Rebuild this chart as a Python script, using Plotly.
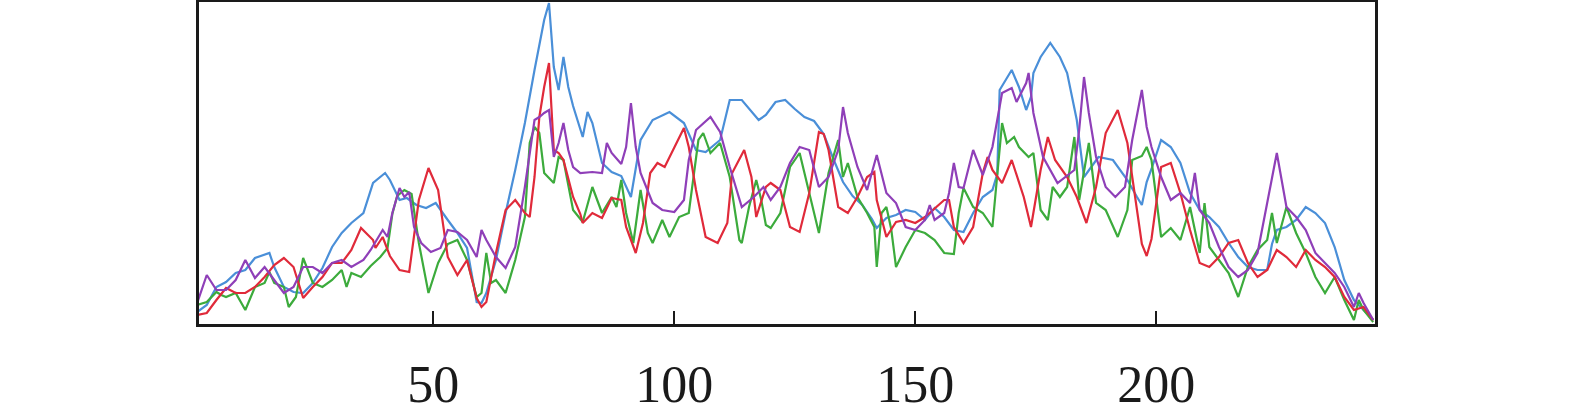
import plotly.graph_objects as go

# channel positions and intensities (arbitrary units)
x_blue = [1, 3, 5, 7, 9, 11, 13, 15, 16, 17, 19, 21, 23, 25, 27, 29, 31, 33, 35.5, 37.5, 40, 41, 43, 44.5, 46.5, 48.5,
          50.5, 53, 55, 57, 58, 59, 60, 61, 63, 65, 67, 69, 71, 73, 74, 75, 76, 77, 78, 79, 81, 82, 83, 85, 87, 89, 91,
          93, 95.5, 99, 102, 104.5, 106.5, 109.5, 111.5, 114, 117.5, 119, 121, 123, 125, 127, 129, 131, 133, 135, 137,
          139, 141, 142, 144, 146, 148, 150, 152, 154, 156, 158, 160, 162, 164, 166, 167, 167.5, 170, 171.5, 173, 174,
          174.5, 176, 178, 180, 181.5, 183.5, 185, 186, 188, 191, 192.5, 194, 196, 197, 198, 199, 201, 203, 205, 207,
          209, 211, 213, 215, 217, 219, 221, 223, 224, 225, 227, 229, 231, 233, 235, 237, 239, 241, 243, 245]
blue = [12, 19, 37, 42, 51, 54, 66, 69, 71, 57, 37, 32, 31, 41, 56, 77, 91, 101, 111, 141, 151, 144, 124, 126, 119, 116,
        121, 104, 91, 76, 47, 22, 21, 31, 64, 111, 154, 201, 254, 304, 321, 257, 234, 267, 237, 218, 187, 212, 201, 161,
        152, 148, 127, 184, 204, 212, 201, 174, 172, 184, 224, 224, 204, 209, 222, 224, 215, 207, 203, 190, 165, 142,
        128, 119, 105, 96, 106, 109, 114, 112, 104, 116, 107, 94, 92, 111, 127, 134, 150, 234, 254, 237, 214, 227, 251,
        267, 281, 267, 251, 204, 147, 154, 167, 164, 154, 144, 127, 119, 142, 155, 184, 177, 161, 131, 114, 107, 97,
        81, 67, 57, 54, 54, 80, 94, 97, 104, 117, 111, 101, 77, 44, 24, 14, 4]

x_red = [1, 3, 5, 7, 9, 11, 13, 15, 17, 19, 21, 23, 25, 27, 29, 31, 33, 35, 37.5, 38, 39.5, 41, 43, 45, 47, 49, 51, 53,
         55, 57, 59, 60, 61, 63, 65, 67, 69, 70, 71, 72, 73, 74, 74.5, 75, 76, 77, 79, 80.5, 81, 83, 85, 87, 89, 90, 92,
         93.5, 95, 96.5, 98, 100, 102, 103, 104.5, 106.5, 109, 111, 112, 114.5, 116, 117, 119, 120, 122, 124, 126, 128,
         130, 131, 132, 134, 136, 138, 140, 141.5, 142, 144, 146, 148, 150, 152, 154, 156, 157, 158, 160, 162, 164, 165,
         166, 168, 170, 172.5, 174, 176, 177.5, 179, 181.5, 183.5, 185.5, 187.5, 189.5, 192, 194, 196, 197, 198, 199,
         201, 203, 205, 207, 209, 211, 213, 215, 217, 219, 221, 223, 225, 227, 229, 231, 233, 235, 237, 239, 241, 243,
         245]
red = [9, 11, 24, 36, 31, 31, 37, 47, 59, 66, 57, 26, 37, 47, 61, 61, 74, 96, 84, 76, 87, 68, 54, 52, 124, 156, 134, 67,
       49, 64, 26, 17, 22, 71, 114, 124, 111, 107, 147, 207, 237, 261, 217, 174, 171, 164, 127, 110, 101, 111, 106, 126,
       124, 97, 71, 101, 151, 161, 157, 177, 196, 177, 134, 87, 81, 101, 151, 174, 147, 107, 137, 141, 134, 97, 92, 131,
       192, 190, 174, 117, 111, 127, 147, 152, 124, 87, 102, 104, 101, 107, 116, 124, 124, 97, 81, 97, 151, 167, 154,
       141, 164, 127, 97, 154, 187, 164, 147, 127, 101, 137, 191, 214, 181, 114, 80, 68, 85, 157, 161, 131, 94, 61, 57,
       67, 81, 84, 61, 47, 54, 74, 67, 57, 74, 64, 57, 47, 27, 14, 17, 4]

x_purple = [1, 3, 5, 7, 9, 11, 13, 15, 17, 19, 21, 23, 25, 27, 29, 31, 33, 35.5, 37, 39.5, 40.5, 41.5, 43, 44, 45, 46,
            47.5, 49.5, 51.5, 53, 55, 57, 59, 60, 61, 63, 65, 67, 69, 71, 72, 73, 74, 75, 76, 77, 78, 79, 80.5, 83, 85,
            86, 87, 89, 90, 91, 92, 93, 95.5, 97.5, 100, 102, 103, 104.5, 107.5, 109.5, 111.5, 114, 116.5, 118.5, 120,
            122, 124, 126, 128, 130, 132, 134, 135, 136, 138, 140, 142, 144, 146, 148, 150, 152, 153, 154, 156, 157,
            158, 159, 160, 162, 164, 166, 168, 170, 171, 173, 173.5, 174.5, 176.5, 179.5, 183, 184, 185, 186, 187.5,
            189.5, 191.5, 193.5, 195, 197, 198, 199, 201, 203, 205, 207, 208, 209, 211, 213, 215, 217, 219, 221, 223,
            225, 227, 229, 231, 233, 235, 237, 239, 241, 242, 243, 245]
purple = [21, 49, 34, 34, 44, 64, 46, 57, 44, 31, 37, 57, 57, 51, 61, 64, 57, 64, 74, 94, 87, 111, 136, 127, 132, 97,
          81, 72, 76, 94, 92, 84, 67, 94, 84, 67, 56, 77, 137, 204, 207, 211, 214, 167, 181, 201, 174, 157, 151, 152,
          151, 181, 171, 160, 177, 221, 177, 151, 121, 114, 112, 124, 164, 194, 207, 192, 157, 117, 127, 137, 124, 137,
          161, 177, 174, 137, 147, 174, 217, 191, 157, 134, 169, 131, 121, 97, 94, 104, 119, 104, 111, 131, 161, 137,
          136, 174, 149, 177, 231, 236, 222, 241, 251, 211, 167, 141, 154, 194, 247, 211, 167, 137, 127, 137, 184, 234,
          197, 177, 147, 124, 131, 121, 151, 114, 101, 77, 57, 47, 54, 71, 121, 171, 117, 107, 94, 71, 61, 51, 37, 17,
          31, 21, 4]

x_green = [1, 3, 5, 6, 7, 9, 11, 13, 15, 16, 17, 19, 20, 21.5, 23, 25, 27, 29, 31, 32, 33, 35, 37, 39, 40.5, 41.5, 42.5,
           44, 45.5, 46.5, 47, 49, 51, 53, 55, 57, 59, 60, 61, 62, 63, 65, 67, 69, 70, 71, 72, 73, 75, 76, 77, 79, 81, 83,
           85, 87, 88, 89, 90, 91.5, 93, 94.5, 95.5, 97.5, 99, 101, 103, 105, 106, 107.5, 109.5, 111.5, 113.5, 114,
           115.5, 117, 118, 119, 120, 122, 124, 126, 128, 130, 132, 134, 135, 136, 138, 140, 141.5, 142, 143, 144, 145,
           146, 148, 150, 152, 154, 156, 158, 159, 160, 162, 164, 166, 168, 169, 170.5, 171.5, 173.5, 174.5, 176, 177.5,
           178.5, 180, 181.5, 183, 184, 186, 187.5, 189.5, 192, 194, 195, 197, 198, 199, 201, 203, 205, 207, 209, 210,
           211, 213, 215, 217, 219, 221, 223, 224, 225, 227, 229, 231, 233, 235, 237, 239, 241, 242, 243, 245]
green = [19, 22, 32, 29, 27, 31, 14, 37, 41, 52, 41, 37, 17, 27, 66, 41, 37, 44, 54, 37, 51, 47, 58, 67, 76, 110, 128,
         134, 130, 94, 81, 31, 61, 80, 84, 64, 27, 31, 71, 41, 44, 31, 64, 107, 181, 197, 191, 151, 141, 167, 164, 114,
         102, 137, 111, 127, 117, 144, 111, 81, 134, 91, 81, 104, 87, 107, 111, 184, 191, 171, 181, 147, 84, 81, 117,
         144, 125, 99, 96, 111, 157, 171, 131, 91, 151, 184, 147, 161, 127, 111, 97, 57, 111, 117, 95, 57, 77, 94, 91,
         84, 71, 70, 111, 136, 117, 111, 97, 201, 181, 187, 177, 167, 171, 114, 104, 137, 127, 137, 187, 124, 181, 121,
         114, 87, 114, 164, 168, 177, 164, 87, 96, 84, 117, 71, 121, 77, 64, 51, 27, 57, 74, 84, 111, 81, 117, 91, 71,
         47, 31, 47, 24, 4, 24, 14, 2]

tick_vals = [50, 100, 150, 200]

fig = go.Figure()
for xs, ys, color in [(x_blue, blue, "#4a8fd8"), (x_green, green, "#3cab3c"),
                      (x_red, red, "#e02a3a"), (x_purple, purple, "#8f3fb8")]:
    fig.add_trace(go.Scatter(x=xs, y=ys, mode="lines", line=dict(color=color, width=2.2),
                             showlegend=False, hoverinfo="skip"))

fig.update_layout(
    width=1575,
    height=420,
    margin=dict(l=199, r=200, t=2, b=96),
    paper_bgcolor="white",
    plot_bgcolor="white",
    font=dict(family="Liberation Serif, Times New Roman, serif", color="#1a1a1a", size=52),
)

fig.update_xaxes(
    range=[1.39, 245.37],
    tickvals=tick_vals,
    ticks="inside",
    ticklen=13,
    tickwidth=2,
    tickcolor="#1a1a1a",
    showline=True,
    linewidth=3,
    linecolor="#1a1a1a",
    mirror=True,
    showgrid=False,
    zeroline=False,
    ticklabelstandoff=13,
    automargin=False,
)

fig.update_yaxes(
    range=[0, 322],
    showticklabels=False,
    ticks="",
    showline=True,
    linewidth=3,
    linecolor="#1a1a1a",
    mirror=True,
    showgrid=False,
    zeroline=False,
    automargin=False,
)

# drop the default page margin so the figure sits flush in the window
fig.write_html("out.html", config={"displayModeBar": False},
               post_script="document.body.style.margin='0';")
